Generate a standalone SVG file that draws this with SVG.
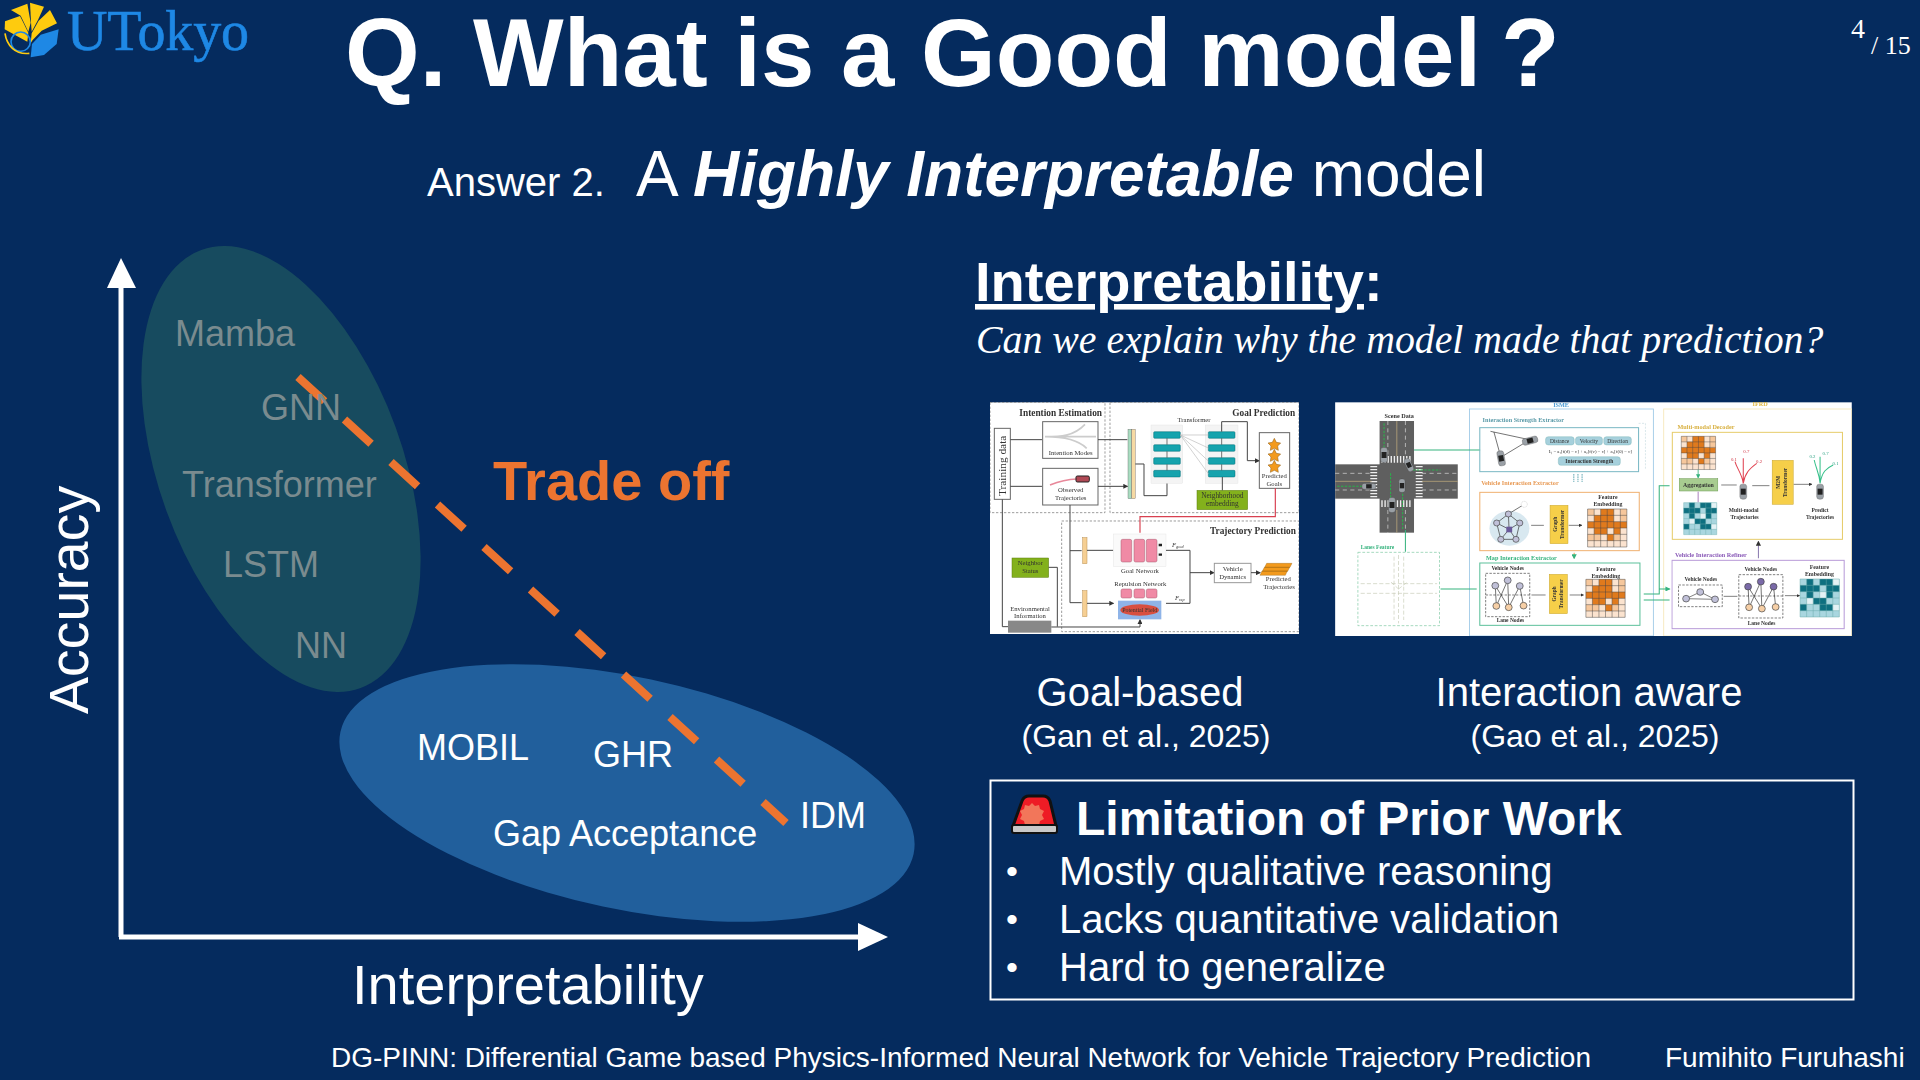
<svg xmlns="http://www.w3.org/2000/svg" xmlns:xlink="http://www.w3.org/1999/xlink" width="1920" height="1080" viewBox="0 0 1920 1080">
<style>
text{font-family:"Liberation Sans",Arial,sans-serif;fill:#fff}
.ser{font-family:"Liberation Serif","Times New Roman",serif}
.m{font-size:36px;fill:#7a8b8f}
.w36{font-size:36px}
.b40{font-size:40px}
.ft{font-size:28px}
.f text{font-family:"Liberation Serif",serif;fill:#333}
.f .b{font-weight:bold}
.f .c{text-anchor:middle}
.ln{fill:none;stroke:#444;stroke-width:3}
.gr{fill:none;stroke:#36b37e;stroke-width:3}
.bk{fill:#fff;stroke:#666;stroke-width:3}
.d{fill:none;stroke:#888;stroke-width:2.5;stroke-dasharray:7 5}
.teal{fill:#12a3ad;stroke:#0a7078;stroke-width:1.5}
.pink{fill:#f08aa5;stroke:#a85a70;stroke-width:1.5}
.tan{fill:#f6cf93;stroke:#b98f50;stroke-width:1.5}
.grn{fill:#83b11a;stroke:#5d7f10;stroke-width:1.5}
.road{fill:#5f5f5f}
.yel{fill:#f6cf4a;stroke:#c9a52c;stroke-width:1.5}
</style>
<defs>
<marker id="ah" markerWidth="5" markerHeight="5" refX="4" refY="2.5" orient="auto"><path d="M0 0L5 2.5L0 5z" fill="#333"/></marker>
<marker id="ag" markerWidth="5" markerHeight="5" refX="4" refY="2.5" orient="auto"><path d="M0 0L5 2.5L0 5z" fill="#36b37e"/></marker>
<filter id="soft" x="0" y="0" width="1" height="1" filterUnits="objectBoundingBox"><feGaussianBlur stdDeviation="2"/></filter>
<g id="hO">
<rect width="120" height="120" fill="#fbe3cf"/>
<path fill="#e07a1f" d="M40 0h40v20H40zM20 20h40v20H20zM60 20h20v20H60zM0 40h120v20H0zM40 60h20v20H40zM20 60h20v20H20zM80 60h20v20H80zM60 80h20v20H60z"/>
<path fill="#f6c79c" d="M0 0h20v20H0zM100 0h20v20h-20zM100 20h20v20h-20zM0 80h40v20H0zM80 80h20v20H80z"/>
<path fill="none" stroke="#444" stroke-width="1.5" d="M0 0h120v120H0zM20 0v120M40 0v120M60 0v120M80 0v120M100 0v120M0 20h120M0 40h120M0 60h120M0 80h120M0 100h120"/>
</g>
<g id="hT">
<rect width="120" height="120" fill="#a9d6df"/>
<path fill="#0f6f80" d="M20 0h20v20H20zM60 0h40v20H60zM0 20h60v20H0zM80 20h40v20H80zM20 40h20v20H20zM80 40h20v20H80zM40 60h40v20H40zM0 80h20v20H0zM60 80h40v20H60z"/>
<path fill="#e4f2f5" d="M100 0h20v20h-20zM60 40h20v20H60zM100 80h20v20h-20zM20 60h20v20H20z"/>
<path fill="none" stroke="#6aa" stroke-width="1.5" d="M0 0h120v120H0zM20 0v120M40 0v120M60 0v120M80 0v120M100 0v120M0 20h120M0 40h120M0 60h120M0 80h120M0 100h120"/>
</g>
<g id="car"><rect x="-11" y="-25" width="22" height="50" rx="8" fill="#9aa0a6" stroke="#444"/><rect x="-8" y="-10" width="16" height="20" fill="#222"/></g>
</defs>
<rect width="1920" height="1080" fill="#052b5e"/>

<g id="logo">
<g transform="scale(.33333)">
<path fill="#fecb0e" d="M14 88L15 64L60 48L85 98L82 125Z"/>
<path fill="#fecb0e" d="M33 30L82 11L92 68L85 95L62 47Z"/>
<path fill="#fecb0e" d="M90 8L132 20L114 60L95 95L93 65Z"/>
<path fill="#fecb0e" d="M116 62L150 30L171 70L125 92L98 120L92 130L95 100Z"/>
<path fill="#1e88e5" d="M176 88L170 132L132 165L92 172L96 132L122 104Z"/>
<circle cx="62" cy="125" r="29" fill="none" stroke="#1e88e5" stroke-width="5"/>
<path d="M15 100C20 135 45 165 88 160" fill="none" stroke="#fecb0e" stroke-width="5"/>
</g>
<text class="ser" x="67" y="50" font-size="56" textLength="182" lengthAdjust="spacing" style="fill:#1e88e5;stroke:#1e88e5;stroke-width:.6">UTokyo</text>
</g>
<text id="title" x="345" y="86" font-size="96" font-weight="bold">Q. What is a Good model</text>
<text x="1501" y="86" font-size="96" font-weight="bold">?</text>
<text class="ser" x="1851" y="38" font-size="28">4</text>
<text class="ser" x="1871" y="54" font-size="26">/ 15</text>
<text x="427" y="196" font-size="40">Answer 2.</text>
<text x="636" y="196" font-size="64">A <tspan font-weight="bold" font-style="italic">Highly Interpretable</tspan> model</text>

<g id="chart">
<ellipse cx="281" cy="469" rx="122" ry="233" transform="rotate(-20 281 469)" fill="#174b5f"/>
<ellipse cx="627" cy="793" rx="293" ry="116" transform="rotate(12 627 793)" fill="#215f9c"/>
</g>
<g id="connectors">
<path d="M121 937V280" fill="none" stroke="#fff" stroke-width="5"/>
<path d="M107 288L121 258L136 288z" fill="#fff"/>
<path d="M119 937H862" fill="none" stroke="#fff" stroke-width="5"/>
<path d="M858 923L888 937L858 951z" fill="#fff"/>
<path d="M298 377L786 823" fill="none" stroke="#ec7430" stroke-width="8" stroke-dasharray="36 27"/>
</g>
<text class="m" x="175" y="346">Mamba</text>
<text class="m" x="261" y="420">GNN</text>
<text class="m" x="182" y="497">Transformer</text>
<text class="m" x="223" y="577">LSTM</text>
<text class="m" x="295" y="658">NN</text>
<text class="w36" x="417" y="760">MOBIL</text>
<text class="w36" x="593" y="767">GHR</text>
<text class="w36" x="493" y="846">Gap Acceptance</text>
<text class="w36" x="800" y="828">IDM</text>
<text x="493" y="500" font-size="56" font-weight="bold" style="fill:#ec7430">Trade off</text>
<text transform="translate(88 714) rotate(-90)" font-size="55.5">Accuracy</text>
<text x="352" y="1004" font-size="56">Interpretability</text>

<text x="975" y="301" font-size="56" font-weight="bold"><tspan text-decoration="underline">Interpretability</tspan>:</text>
<text class="ser" x="976" y="353" font-size="39.8" font-style="italic">Can we explain why the model made that prediction?</text>

<g id="fig1" class="f" transform="translate(970 390) scale(.33333)" filter="url(#soft)">
<rect x="60" y="37" width="927" height="695" fill="#fff"/>
<path class="d" d="M60 37H405V368H60zM420 37H987V368H420zM275 393H987V725H275z"/>
<text class="b" x="148" y="77" font-size="28">Intention Estimation</text>
<text class="b" x="787" y="77" font-size="28">Goal Prediction</text>
<text class="b" x="720" y="433" font-size="28">Trajectory Prediction</text>
<rect class="bk" x="73" y="115" width="48" height="213"/>
<text transform="translate(107 318) rotate(-90)" font-size="34">Training data</text>
<rect class="bk" x="218" y="95" width="166" height="110"/>
<path d="M225 140C270 140 310 140 345 103M225 140H378M225 140C270 140 320 145 350 175" fill="none" stroke="#ccc" stroke-width="5"/>
<text class="c" x="302" y="196" font-size="20">Intention Modes</text>
<rect class="bk" x="218" y="235" width="166" height="110"/>
<path d="M240 285C265 275 290 268 320 267" fill="none" stroke="#e8889a" stroke-width="5"/>
<rect x="318" y="258" width="40" height="18" rx="4" fill="#b04a55" stroke="#222" stroke-width="3"/>
<text class="c" x="302" y="307" font-size="20">Observed</text>
<text class="c" x="302" y="330" font-size="20">Trajectories</text>
<path class="ln" marker-end="url(#ah)" d="M121 149H216M121 289H216M384 149H472M384 289H472"/>
<rect x="474" y="118" width="11" height="208" fill="#a8dcc0" stroke="#555"/>
<rect x="485" y="118" width="11" height="208" fill="#f6d9a3" stroke="#555"/>
<path class="ln" marker-end="url(#ah)" d="M496 222H522V317H591V262"/>
<rect x="543" y="105" width="95" height="175" fill="#f4f4f4" stroke="#ddd"/>
<rect x="706" y="105" width="98" height="175" fill="#f4f4f4" stroke="#ddd"/>
<g><rect class="teal" x="551" y="125" width="80" height="20" rx="3"/><rect class="teal" x="551" y="164" width="80" height="20" rx="3"/><rect class="teal" x="551" y="203" width="80" height="20" rx="3"/><rect class="teal" x="551" y="241" width="80" height="20" rx="3"/>
<rect class="teal" x="715" y="125" width="80" height="20" rx="3"/><rect class="teal" x="715" y="164" width="80" height="20" rx="3"/><rect class="teal" x="715" y="203" width="80" height="20" rx="3"/><rect class="teal" x="715" y="241" width="80" height="20" rx="3"/></g>
<path d="M631 135H715M631 135L715 174M631 135L715 213M631 135L715 251" fill="none" stroke="#bbb" stroke-width="2"/>
<path d="M591 164V145M591 203V184M591 241V223M755 164V145M755 203V184M755 241V223" fill="none" stroke="#333" stroke-width="2"/>
<text class="c" x="672" y="95" font-size="20">Transformer</text>
<path class="ln" marker-end="url(#ah)" d="M755 125V95H832V212H867"/>
<rect class="grn" x="681" y="301" width="152" height="58"/>
<text class="c" x="757" y="325" font-size="22">Neighborhood</text>
<text class="c" x="757" y="349" font-size="22">embedding</text>
<path class="ln" d="M757 301V261"/>
<rect class="bk" x="868" y="128" width="91" height="167"/>
<path id="st" fill="#f39a1e" stroke="#8a5a10" stroke-width="1.5" d="M913 145l6 12 13 2-9 9 2 13-12-6-12 6 2-13-9-9 13-2z"/>
<path fill="#f39a1e" stroke="#8a5a10" stroke-width="1.5" d="M913 178l6 12 13 2-9 9 2 13-12-6-12 6 2-13-9-9 13-2zM913 211l6 12 13 2-9 9 2 13-12-6-12 6 2-13-9-9 13-2z"/>
<text class="c" x="913" y="265" font-size="20">Predicted</text>
<text class="c" x="913" y="287" font-size="20">Goals</text>
<path d="M916 295V380H510V428" fill="none" stroke="#d8404f" stroke-width="3.5"/>
<path class="ln" d="M300 345V638H335M300 482H335M97 328V710H114"/>
<rect class="tan" x="338" y="443" width="13" height="78"/>
<rect class="tan" x="338" y="602" width="13" height="78"/>
<path class="ln" marker-end="url(#ah)" d="M351 481H430M351 640H430"/>
<rect x="430" y="432" width="158" height="98" fill="#fafafa" stroke="#ddd"/>
<rect class="pink" x="453" y="448" width="32" height="68" rx="5"/><rect class="pink" x="492" y="448" width="32" height="68" rx="5"/><rect class="pink" x="529" y="448" width="32" height="68" rx="5"/>
<path d="M566 465h10M566 494h10" stroke="#222" stroke-width="7" fill="none"/>
<text class="c" x="510" y="550" font-size="20">Goal Network</text>
<text class="c" x="511" y="587" font-size="20">Repulsion Network</text>
<rect class="pink" x="453" y="597" width="32" height="27" rx="5"/><rect class="pink" x="492" y="597" width="32" height="27" rx="5"/><rect class="pink" x="529" y="597" width="32" height="27" rx="5"/>
<rect x="444" y="632" width="130" height="56" fill="#8fb4e8"/>
<ellipse cx="509" cy="660" rx="58" ry="17" fill="#d8503f"/>
<text class="c" x="509" y="665" font-size="18">Potential Field</text>
<path class="ln" d="M588 481H660V640H588"/>
<path class="ln" marker-end="url(#ah)" d="M660 548H731"/>
<text x="606" y="470" font-size="20" font-style="italic">F<tspan font-size="13" dy="4">goal</tspan></text>
<text x="615" y="630" font-size="20" font-style="italic">F<tspan font-size="13" dy="4">rep</tspan></text>
<rect class="bk" x="733" y="520" width="110" height="58" style="stroke:#999"/>
<text class="c" x="788" y="542" font-size="20">Vehicle</text>
<text class="c" x="788" y="566" font-size="20">Dynamics</text>
<path class="ln" marker-end="url(#ah)" d="M843 548H870"/>
<path fill="#f39a1e" stroke="#8a5a10" d="M890 520h76l-6 12h-76zM883 532h76l-6 12h-76zM876 543h76l-6 13h-76z"/>
<text class="c" x="925" y="574" font-size="20">Predicted</text>
<text class="c" x="927" y="597" font-size="20">Trajectories</text>
<rect class="grn" x="126" y="504" width="110" height="58"/>
<text class="c" x="181" y="526" font-size="20">Neighbor</text>
<text class="c" x="181" y="548" font-size="20">Status</text>
<path class="ln" d="M236 532H262V710"/>
<rect x="114" y="692" width="130" height="36" fill="#888"/>
<text class="c" x="180" y="662" font-size="20">Environmental</text>
<text class="c" x="180" y="685" font-size="20">Information</text>
<path class="ln" marker-end="url(#ah)" d="M244 711H510V690"/>
</g>

<g id="fig2" class="f" transform="translate(1320 390) scale(.3444 .33333)" filter="url(#soft)">
<rect x="44" y="37" width="1500" height="701" fill="#fff"/>
<rect x="434" y="57" width="534" height="681" fill="none" stroke="#9cc8e6" stroke-width="2.5"/>
<rect x="998" y="57" width="546" height="681" fill="none" stroke="#f6e6b8" stroke-width="2.5"/>
<text class="b c" x="700" y="50" font-size="18" style="fill:#4a9ad4">ISME</text>
<text class="b c" x="1278" y="49" font-size="18" style="fill:#e0b840">IFRD</text>
<text class="b c" x="230" y="85" font-size="18">Scene Data</text>
<rect class="road" x="173" y="93" width="100" height="335"/>
<rect class="road" x="44" y="223" width="356" height="103"/>
<path d="M178 208H268M178 341H268M156 228V322M288 228V322" fill="none" stroke="#eee" stroke-width="20" stroke-dasharray="4 5"/>
<path d="M44 274H150M296 274H400M223 93V198M223 360V428" fill="none" stroke="#c8b080" stroke-width="2"/>
<path d="M44 250H150M296 250H400M44 300H150M296 300H400M197 93V198M248 93V198M197 360V428M248 360V428" fill="none" stroke="#ddd" stroke-width="2" stroke-dasharray="12 10"/>
<path d="M186 100V190M50 289H125M270 240H350M205 250V330M240 300V420" fill="none" stroke="#29b34a" stroke-width="3" stroke-dasharray="7 4"/>
<use xlink:href="#car" href="#car" transform="translate(186 195) scale(.9)"/>
<use xlink:href="#car" href="#car" transform="translate(258 225) rotate(-25) scale(.8)"/>
<use xlink:href="#car" href="#car" transform="translate(142 289) rotate(90) scale(.8)"/>
<use xlink:href="#car" href="#car" transform="translate(238 287) scale(.8)"/>
<use xlink:href="#car" href="#car" transform="translate(209 345) scale(.9)"/>
<path class="gr" marker-end="url(#ag)" d="M248 420V485M273 180H465M350 597H455M940 612H985V287H1015M940 630H1015M985 597H1015"/>
<text class="b" x="118" y="478" font-size="16" style="fill:#36b37e">Lanes Feature</text>
<rect x="110" y="487" width="237" height="220" fill="none" stroke="#7cc8a2" stroke-width="2" stroke-dasharray="8 5"/>
<path d="M228 495V700M118 581H340M118 610H340M215 500V690M243 500V690M228 597L205 575M228 597L255 575" fill="none" stroke="#c8ccb8" stroke-width="2" stroke-dasharray="12 6"/>

<text class="b" x="472" y="96" font-size="18" style="fill:#5a9aa8">Interaction Strength Extractor</text>
<rect x="464" y="113" width="461" height="132" fill="none" stroke="#7ab8c4" stroke-width="3"/>
<path d="M925 100h20v140" fill="none" stroke="#c8dde2" stroke-width="2" stroke-dasharray="6 4"/>
<path d="M495 124L612 150M505 126L522 190M528 200L600 155" fill="none" stroke="#333" stroke-width="2"/>
<use xlink:href="#car" href="#car" transform="translate(610 152) rotate(75) scale(.9)"/>
<use xlink:href="#car" href="#car" transform="translate(526 205) rotate(-10) scale(.9)"/>
<g fill="#a6d0dc" stroke="#6aa"><rect x="655" y="140" width="83" height="25" rx="8"/><rect x="742" y="140" width="78" height="25" rx="8"/><rect x="824" y="140" width="80" height="25" rx="8"/><rect x="692" y="200" width="180" height="26" rx="8"/></g>
<text class="c" x="696" y="158" font-size="16">Distance</text><text class="c" x="781" y="158" font-size="16">Velocity</text><text class="c" x="864" y="158" font-size="16">Direction</text>
<text class="c b" x="782" y="219" font-size="16">Interaction Strength</text>
<text class="c" x="785" y="188" font-size="14">Iᵢⱼ = a₁[f(d) − c] + a₂[f(v) − c] + a₃[f(θ) − c]</text>
<path d="M737 252V276M749 252V276M761 252V276" fill="none" stroke="#4a9aa8" stroke-width="2.5" stroke-dasharray="5 2"/>

<text class="b" x="468" y="285" font-size="18" style="fill:#e89a55">Vehicle Interaction Extractor</text>
<rect x="464" y="307" width="463" height="175" fill="none" stroke="#f0b070" stroke-width="3"/>
<ellipse cx="550" cy="415" rx="58" ry="52" fill="#d8e8f0"/>
<path d="M513 399L547 372L580 399L569 448L525 448zM549 418L513 399M549 418L547 372M549 418L580 399M549 418L569 448M549 418L525 448M547 372L593 343" fill="none" stroke="#333" stroke-width="2"/>
<g fill="#c0c0d8" stroke="#444" stroke-width="2"><circle cx="513" cy="399" r="9"/><circle cx="547" cy="372" r="9"/><circle cx="580" cy="399" r="9"/><circle cx="569" cy="448" r="9"/><circle cx="525" cy="448" r="9"/></g>
<rect x="541" y="410" width="17" height="17" fill="#6a5a9a"/>
<circle cx="593" cy="343" r="9" fill="#fff" stroke="#999" stroke-dasharray="3 2"/>
<path class="ln" marker-end="url(#ah)" d="M613 406H650M722 406H760" style="stroke-width:2"/>
<rect class="yel" x="668" y="346" width="52" height="115"/>
<text class="b c" transform="translate(688 403) rotate(-90)" font-size="16">Graph</text>
<text class="b c" transform="translate(708 403) rotate(-90)" font-size="16">Transformer</text>
<text class="b c" x="836" y="327" font-size="17">Feature</text><text class="b c" x="836" y="349" font-size="17">Embedding</text>
<use xlink:href="#hO" href="#hO" transform="translate(777 357) scale(.95)"/>
<path d="M738 488V505" fill="none" stroke="#f0a050" stroke-width="3" marker-end="url(#ag)"/>

<text class="b" x="482" y="511" font-size="18" style="fill:#36b37e">Map Interaction Extractor</text>
<rect x="464" y="519" width="465" height="187" fill="none" stroke="#5cc09a" stroke-width="3"/>
<text class="b c" x="545" y="541" font-size="16">Vehicle Nodes</text>
<rect x="481" y="550" width="128" height="130" fill="none" stroke="#444" stroke-width="2" stroke-dasharray="7 4"/>
<path d="M481 615H609" stroke="#444" stroke-width="2" stroke-dasharray="7 4"/>
<path d="M509 587L512 648M509 587L548 652M545 571L512 648M545 571L548 652M580 588L548 652M580 588L591 647" fill="none" stroke="#333" stroke-width="2"/>
<g fill="#c0c0d8" stroke="#444" stroke-width="2"><circle cx="509" cy="587" r="10"/><circle cx="545" cy="571" r="10"/><circle cx="580" cy="588" r="10"/></g>
<g fill="#f6cfa6" stroke="#444" stroke-width="2"><circle cx="512" cy="648" r="10"/><circle cx="548" cy="652" r="10"/><circle cx="591" cy="647" r="10"/></g>
<text class="b c" x="553" y="697" font-size="16">Lane Nodes</text>
<path class="ln" marker-end="url(#ah)" d="M614 615H655M725 615H765" style="stroke-width:2"/>
<rect class="yel" x="666" y="553" width="52" height="118"/>
<text class="b c" transform="translate(686 612) rotate(-90)" font-size="16">Graph</text>
<text class="b c" transform="translate(706 612) rotate(-90)" font-size="16">Transformer</text>
<text class="b c" x="830" y="543" font-size="17">Feature</text><text class="b c" x="830" y="563" font-size="17">Embedding</text>
<use xlink:href="#hO" href="#hO" transform="translate(772 568) scale(.95)"/>

<text class="b" x="1038" y="116" font-size="18" style="fill:#d8b040">Multi-modal Decoder</text>
<rect x="1023" y="127" width="494" height="321" fill="none" stroke="#e6cc6a" stroke-width="3"/>
<use xlink:href="#hO" href="#hO" transform="translate(1049 139) scale(.83)"/>
<path d="M1098 239V263" stroke="#36b37e" stroke-width="2.5" marker-end="url(#ag)" fill="none"/>
<rect x="1043" y="266" width="112" height="37" fill="#a8cc90" stroke="#6a9a50" stroke-width="1.5"/>
<text class="b c" x="1099" y="291" font-size="17">Aggregation</text>
<path d="M1098 337V305" stroke="#9a6ab0" stroke-width="2.5" fill="none"/>
<use xlink:href="#hT" href="#hT" transform="translate(1056 338) scale(.8)"/>
<path class="ln" marker-end="url(#ah)" d="M1165 285H1210M1255 287H1305M1375 283H1428" style="stroke-width:2"/>
<use xlink:href="#car" href="#car" transform="translate(1229 305) scale(.9)"/>
<path d="M1229 280C1225 250 1210 235 1205 215M1229 280V205M1229 280C1235 245 1250 235 1268 220" fill="none" stroke="#e0404f" stroke-width="3"/>
<text class="c" x="1202" y="212" font-size="14" style="fill:#d03040">0.1</text><text class="c" x="1238" y="190" font-size="14" style="fill:#d03040">0.7</text><text class="c" x="1275" y="220" font-size="14" style="fill:#d03040">0.2</text>
<text class="b c" x="1230" y="365" font-size="16">Multi-modal</text><text class="b c" x="1233" y="386" font-size="16">Trajectories</text>
<rect class="yel" x="1313" y="211" width="61" height="132"/>
<text class="b c" transform="translate(1337 277) rotate(-90)" font-size="16">M2M</text>
<text class="b c" transform="translate(1357 277) rotate(-90)" font-size="16">Transformer</text>
<use xlink:href="#car" href="#car" transform="translate(1452 305) scale(.9)"/>
<path d="M1452 280C1450 250 1440 235 1435 210M1452 280V200M1452 280C1458 245 1470 235 1490 225" fill="none" stroke="#36c08a" stroke-width="3"/>
<text class="c" x="1430" y="205" font-size="14" style="fill:#2aa080">0.2</text><text class="c" x="1468" y="195" font-size="14" style="fill:#2aa080">0.7</text><text class="c" x="1497" y="225" font-size="14" style="fill:#2aa080">0.1</text>
<text class="b c" x="1452" y="366" font-size="16">Predict</text><text class="b c" x="1452" y="386" font-size="16">Trajectories</text>

<text class="b" x="1031" y="501" font-size="18" style="fill:#8a5ab8">Vehicle Interaction Refiner</text>
<rect x="1022" y="511" width="500" height="205" fill="none" stroke="#b89ad8" stroke-width="3"/>
<path d="M1273 505V455" stroke="#8a7ab0" stroke-width="3" fill="none" marker-end="url(#ah)"/>
<text class="b c" x="1106" y="574" font-size="16">Vehicle Nodes</text>
<rect x="1041" y="585" width="127" height="65" fill="none" stroke="#444" stroke-width="2" stroke-dasharray="7 4"/>
<path d="M1063 626L1104 606L1147 628z" fill="none" stroke="#444" stroke-width="2"/>
<g fill="#c0c0d8" stroke="#444" stroke-width="2"><circle cx="1063" cy="626" r="10"/><circle cx="1104" cy="606" r="10"/><circle cx="1147" cy="628" r="10"/></g>
<path class="ln" marker-end="url(#ah)" d="M1172 619H1212M1350 617H1392" style="stroke-width:2"/>
<text class="b c" x="1280" y="544" font-size="16">Vehicle Nodes</text>
<rect x="1216" y="554" width="128" height="130" fill="none" stroke="#444" stroke-width="2" stroke-dasharray="7 4"/>
<path d="M1216 618H1344" stroke="#444" stroke-width="2" stroke-dasharray="7 4"/>
<path d="M1243 590L1246 652M1243 590L1283 656M1280 575L1246 652M1280 575L1283 656M1317 590L1283 656M1317 590L1323 651" fill="none" stroke="#333" stroke-width="2"/>
<g fill="#7a6aa8" stroke="#444" stroke-width="2"><circle cx="1243" cy="590" r="10"/><circle cx="1280" cy="575" r="10"/><circle cx="1317" cy="590" r="10"/></g>
<g fill="#f6cfa6" stroke="#444" stroke-width="2"><circle cx="1246" cy="652" r="10"/><circle cx="1283" cy="656" r="10"/><circle cx="1323" cy="651" r="10"/></g>
<text class="b c" x="1282" y="706" font-size="16">Lane Nodes</text>
<text class="b c" x="1450" y="538" font-size="17">Feature</text><text class="b c" x="1450" y="558" font-size="17">Embedding</text>
<use xlink:href="#hT" href="#hT" transform="translate(1394 567) scale(.95)"/>
</g>

<text class="b40" x="1140" y="706" text-anchor="middle">Goal-based</text>
<text x="1146" y="747" font-size="32" text-anchor="middle">(Gan et al., 2025)</text>
<text class="b40" x="1589" y="706" text-anchor="middle">Interaction aware</text>
<text x="1595" y="747" font-size="32" text-anchor="middle">(Gao et al., 2025)</text>

<g id="limitation">
<rect x="990.5" y="780.5" width="863" height="219" fill="none" stroke="#fff" stroke-width="2"/>
<g id="flasher">
<path d="M1013 826L1022 801Q1024 796 1029 796H1043Q1048 796 1050 801L1056 826z" fill="#ee1c25" stroke="#111" stroke-width="3"/>
<path d="M1032 803l3 3 4-1 1 4 4 2-2 4 2 4-4 2-1 4H1025l-1-4-4-2 2-4-2-4 4-2 1-4 4 1z" fill="#f2765a"/>
<rect x="1012" y="825" width="45" height="8" rx="2" fill="#c9c9c9" stroke="#111" stroke-width="2"/>
</g>
<text x="1076" y="835" font-size="48" font-weight="bold">Limitation of Prior Work</text>
<text x="1006" y="883" font-size="34">•</text><text class="b40" x="1059" y="885">Mostly qualitative reasoning</text>
<text x="1006" y="931" font-size="34">•</text><text class="b40" x="1059" y="933">Lacks quantitative validation</text>
<text x="1006" y="979" font-size="34">•</text><text class="b40" x="1059" y="981">Hard to generalize</text>
</g>
<text class="ft" x="331" y="1067" font-size="28" textLength="1260">DG-PINN: Differential Game based Physics-Informed Neural Network for Vehicle Trajectory Prediction</text>
<text class="ft" x="1665" y="1067">Fumihito Furuhashi</text>
</svg>
